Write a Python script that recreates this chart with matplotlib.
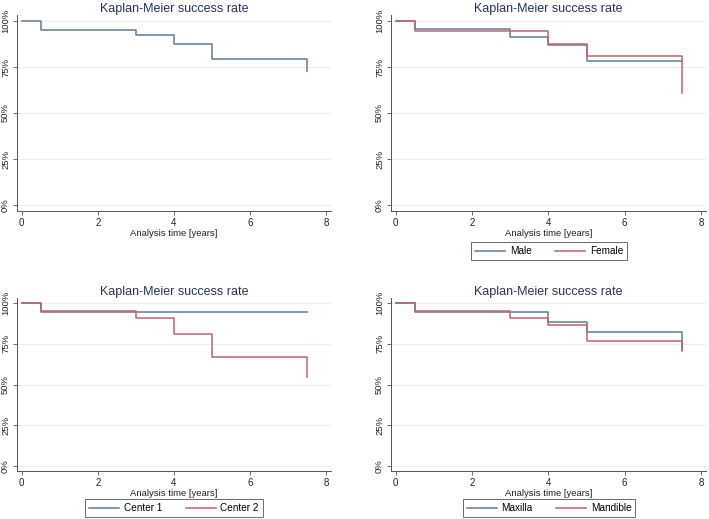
import matplotlib
matplotlib.use("Agg")
import matplotlib.pyplot as plt

plt.rcParams['font.family'] = ['Liberation Sans', 'DejaVu Sans']

# step times (years); the last point at 7.5 gives the final drop
times = [0, 0.5, 3, 4, 5, 7.5]

overall = [100, 95.2, 92.6, 87.3, 79.3, 73.0]

male = [100, 95.8, 91.5, 87.0, 78.3, 78.3]
female = [100, 94.4, 94.4, 87.7, 81.0, 60.7]

center1 = [100, 94.5, 94.5, 94.5, 94.5, 94.5]
center2 = [100, 95.5, 90.6, 81.1, 66.7, 54.8]

maxilla = [100, 94.5, 94.5, 88.5, 82.5, 71.5]
mandible = [100, 95.5, 91.0, 86.4, 76.8, 70.8]

title = "Kaplan-Meier success rate"
xlabel = "Analysis time [years]"
yticks = [0, 25, 50, 75, 100]
ytick_labels = ["0%", "25%", "50%", "75%", "100%"]
xticks = [0, 2, 4, 6, 8]

BLUE = "#5d7d98"
RED = "#c0656b"
TITLE_C = "#27335e"
GRID_C = "#e8eef3"
AX_C = "#555555"

W, H = 709, 519
fig = plt.figure(figsize=(W / 100, H / 100), dpi=100)


def make_ax(left, top, right, bottom):
    ax = fig.add_axes([left / W, 1 - bottom / H, (right - left) / W, (bottom - top) / H])
    ax.set_xlim(-0.124, 8.13)
    ax.set_ylim(-3.2, 103.2)
    ax.set_yticks(yticks)
    ax.set_yticklabels(ytick_labels, rotation=90, va="center", fontsize=6.8, color="#222222")
    ax.set_xticks(xticks)
    ax.set_xticklabels([str(t) for t in xticks], fontsize=7, color="#222222")
    ax.tick_params(length=3, width=0.6, color=AX_C, pad=2)
    for s in ["top", "right"]:
        ax.spines[s].set_visible(False)
    for s in ["left", "bottom"]:
        ax.spines[s].set_color(AX_C)
        ax.spines[s].set_linewidth(0.7)
    ax.grid(axis="y", color=GRID_C, linewidth=0.8)
    ax.set_axisbelow(True)
    ax.set_title(title, fontsize=9, color=TITLE_C, pad=2)
    ax.set_xlabel(xlabel, fontsize=6.8, labelpad=1, color="#222222")
    return ax


def add_legend(ax, cx, cy):
    leg = ax.legend(loc="center", bbox_to_anchor=(cx / W, 1 - cy / H), bbox_transform=fig.transFigure,
                    ncol=2, fontsize=7.2, frameon=True, fancybox=False, handlelength=3.0,
                    columnspacing=2.3, borderpad=0.4, handletextpad=0.5)
    leg.get_frame().set_edgecolor("#444444")
    leg.get_frame().set_linewidth(0.7)


# top-left
ax1 = make_ax(17, 15, 331, 211)
ax1.step(times, overall, where="post", color=BLUE, lw=1.1)

# top-right
ax2 = make_ax(391, 15, 706, 211)
ax2.step(times, male, where="post", color=BLUE, lw=1.1, label="Male")
ax2.step(times, female, where="post", color=RED, lw=1.1, label="Female")
add_legend(ax2, 549, 251)

# bottom-left
ax3 = make_ax(17, 298, 331, 471)
ax3.step(times, center1, where="post", color=BLUE, lw=1.1, label="Center 1")
ax3.step(times, center2, where="post", color=RED, lw=1.1, label="Center 2")
add_legend(ax3, 174, 508)

# bottom-right
ax4 = make_ax(391, 298, 706, 471)
ax4.step(times, maxilla, where="post", color=BLUE, lw=1.1, label="Maxilla")
ax4.step(times, mandible, where="post", color=RED, lw=1.1, label="Mandible")
add_legend(ax4, 549, 508)

fig.savefig("out.png", dpi=100, facecolor="white")
